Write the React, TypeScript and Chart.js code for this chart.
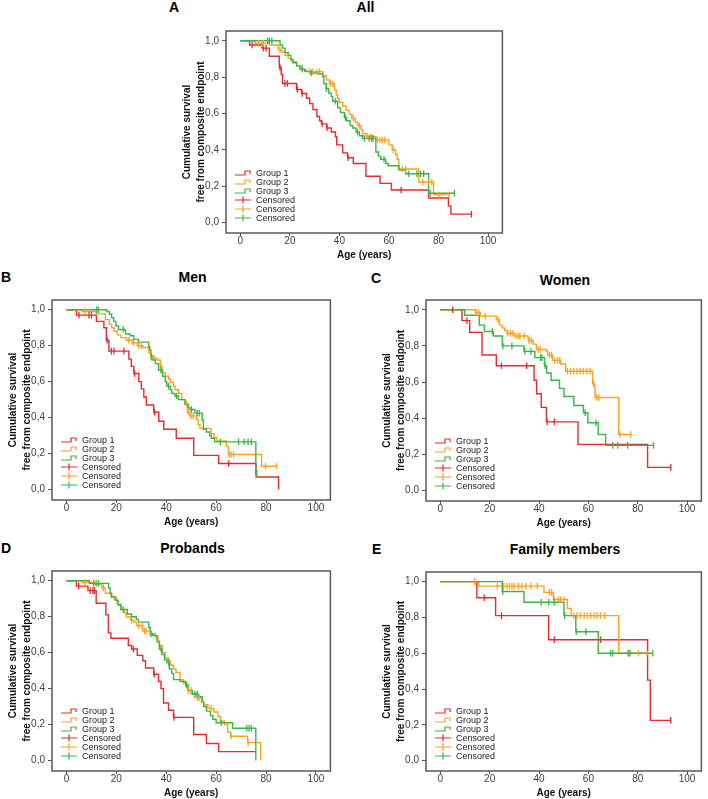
import React, { useEffect, useRef } from "react";
import { Chart, registerables } from "chart.js";

Chart.register(...registerables);

const FONT = '"Liberation Sans", Arial, Helvetica, sans-serif';

// ---------- shared labels / ticks ----------
const xTicks = [0, 20, 40, 60, 80, 100];
const yTicks = [0, 0.2, 0.4, 0.6, 0.8, 1.0];
const groupNames = ["Group 1", "Group 2", "Group 3"];
const censoredName = "Censored";
const groupColors = ["#e8292e", "#f8a325", "#3cb44b"];
const xAxisTitle = "Age (years)";
const yAxisTitle = ["Cumulative survival", "free from composite endpoint"];
const panelTitles = ["All", "Men", "Women", "Probands", "Family members"];
const panelLetters = ["A", "B", "C", "D", "E"];

// ---------- A: All ----------
const allG1Time = [3.7, 8.7, 11.7, 15.7, 16.5, 17, 22.7, 24.7, 26.7, 28, 29.3, 30.9, 32, 32.7, 34.9, 36.7, 38.4, 38.9, 41.3, 43.3, 45.6, 50.7, 56.4, 61, 76, 84, 85];
const allG1Surv = [0.977, 0.96, 0.915, 0.853, 0.815, 0.765, 0.732, 0.71, 0.684, 0.654, 0.622, 0.583, 0.56, 0.543, 0.52, 0.498, 0.472, 0.427, 0.383, 0.356, 0.325, 0.254, 0.215, 0.179, 0.135, 0.09, 0.046];
const allG1Cens = [4.7, 9.3, 10.4, 16, 18, 19, 23, 25, 33, 35, 43.5, 64.9, 93.3];
const allG2Time = [6, 11.7, 15.3, 16.7, 18, 19.3, 20.7, 22.7, 24.7, 26.7, 33.3, 34.7, 36, 38, 38.7, 39.3, 40, 41.3, 42.7, 44, 45, 46.4, 47.3, 48.7, 49.3, 50.7, 54.7, 60, 61.3, 62.7, 63.3, 64, 72, 78];
const allG2Surv = [0.986, 0.977, 0.95, 0.938, 0.92, 0.902, 0.885, 0.862, 0.84, 0.83, 0.808, 0.785, 0.764, 0.729, 0.702, 0.681, 0.661, 0.64, 0.617, 0.596, 0.573, 0.551, 0.534, 0.511, 0.489, 0.472, 0.454, 0.427, 0.4, 0.374, 0.348, 0.294, 0.223, 0.152];
const allG2Cens = [7.3, 8.7, 9.3, 16, 28, 29.3, 31, 32, 36.4, 37.3, 45.6, 48, 51.3, 52.7, 55.3, 56.3, 57.3, 58.3, 61.7, 65.3, 66.7, 73.7, 76, 77.3, 80, 84.3];
const allG3Time = [16, 17, 18, 19.3, 20.4, 21.3, 22.7, 24, 26, 28, 31.3, 33.3, 33.7, 34.7, 35.7, 36.7, 37.3, 39.3, 40.4, 42, 42.9, 44.3, 45.3, 46.7, 48, 49.3, 54.7, 55.7, 56.7, 58.7, 59.7, 64, 66.7, 76];
const allG3Surv = [0.977, 0.96, 0.936, 0.92, 0.897, 0.879, 0.862, 0.844, 0.832, 0.823, 0.817, 0.8, 0.764, 0.738, 0.711, 0.693, 0.667, 0.631, 0.605, 0.578, 0.56, 0.534, 0.52, 0.498, 0.477, 0.463, 0.388, 0.365, 0.348, 0.325, 0.312, 0.289, 0.268, 0.161];
const allG3Cens = [11, 11.7, 12.7, 25, 28.7, 34.7, 38.4, 42.4, 47.3, 50, 52, 53, 53.6, 58, 68, 71.3, 72.7, 74, 76.7, 86.4];

// ---------- B: Men ----------
const menG1Time = [4, 12, 15, 16, 17, 25, 26, 27, 29, 30, 31, 32, 35, 37, 39, 44, 51, 61, 76, 85];
const menG1Surv = [0.97, 0.935, 0.9, 0.83, 0.77, 0.725, 0.685, 0.645, 0.6, 0.56, 0.515, 0.47, 0.43, 0.38, 0.335, 0.285, 0.19, 0.145, 0.07, 0.0];
const menG1Cens = [5, 9, 10, 16.3, 18, 19, 23, 27.3, 35.3, 65];
const menG2Time = [6.3, 11.9, 15.6, 17.2, 18.1, 19.1, 20.4, 21.8, 24, 26.4, 28.4, 30.7, 33, 34, 35, 36.3, 37.6, 38.3, 39.6, 40.9, 41.6, 42.9, 43.5, 44.9, 46.2, 47.5, 48.5, 49.5, 52.1, 52.8, 53.5, 58, 59.1, 60.3, 64.1, 64.9, 78.2];
const menG2Surv = [0.99, 0.977, 0.945, 0.92, 0.9, 0.88, 0.86, 0.845, 0.83, 0.815, 0.8, 0.79, 0.76, 0.745, 0.73, 0.72, 0.685, 0.65, 0.63, 0.615, 0.595, 0.575, 0.555, 0.535, 0.5, 0.475, 0.43, 0.41, 0.39, 0.36, 0.34, 0.31, 0.29, 0.27, 0.24, 0.195, 0.13];
const menG2Cens = [7.3, 9.2, 25, 26.8, 29, 30, 33.9, 37.9, 48.2, 48.8, 49.9, 50.8, 65.2, 66, 67, 79.8, 84.2];
const menG3Time = [16.1, 17.2, 18.1, 18.9, 19.8, 20.8, 23.7, 25.5, 27, 28.8, 33, 33.4, 33.8, 34.3, 35.6, 36.9, 38.5, 39.6, 40.2, 41.6, 42.2, 43.5, 44.9, 47.5, 48.8, 49.5, 51.5, 54.4, 54.9, 56.1, 57.4, 58, 59.4, 75.9];
const menG3Surv = [0.99, 0.975, 0.955, 0.935, 0.91, 0.89, 0.865, 0.855, 0.835, 0.82, 0.795, 0.775, 0.74, 0.72, 0.7, 0.665, 0.63, 0.6, 0.575, 0.555, 0.535, 0.52, 0.5, 0.475, 0.455, 0.445, 0.425, 0.385, 0.335, 0.32, 0.3, 0.285, 0.265, 0.09];
const menG3Cens = [12.1, 12.8, 22.8, 34, 37.9, 40.9, 44.2, 50.1, 52.4, 53.2, 61.7, 69, 71.2, 72.8, 74.1, 76.3];

// ---------- C: Women ----------
const womenG1Time = [8.8, 11.9, 16.9, 22.7, 38, 39, 40.9, 43, 55.8, 84];
const womenG1Surv = [0.94, 0.875, 0.75, 0.69, 0.61, 0.535, 0.46, 0.38, 0.255, 0.128];
const womenG1Cens = [5, 10.8, 24.8, 35, 43.3, 46.2, 93.4];
const womenG2Time = [14.2, 16.2, 22.7, 24, 25.1, 26.1, 27, 29.9, 35.6, 37.6, 38.9, 42.9, 43.5, 45.5, 48.8, 50.8, 61.7, 62.7, 72.3];
const womenG2Surv = [0.985, 0.965, 0.945, 0.915, 0.9, 0.885, 0.87, 0.855, 0.83, 0.81, 0.78, 0.77, 0.75, 0.72, 0.7, 0.66, 0.59, 0.515, 0.31];
const womenG2Cens = [14.5, 15.6, 18.2, 23.4, 27.3, 28.4, 29.4, 30.7, 31.7, 32.3, 34, 36, 36.9, 39.6, 40.5, 44.2, 45.1, 46.4, 47.5, 48.4, 51.5, 52.8, 54.1, 55.4, 56.7, 58, 59.4, 60.7, 62.1, 63.3, 64.2, 72.8, 77.2];
const womenG3Time = [9.9, 15.8, 17.8, 21.5, 25.1, 33.9, 38.3, 42.2, 43.1, 44.9, 48.3, 50.1, 54.1, 58, 59.8, 64, 67];
const womenG3Surv = [0.97, 0.915, 0.88, 0.855, 0.8, 0.77, 0.735, 0.69, 0.65, 0.61, 0.565, 0.52, 0.47, 0.43, 0.375, 0.31, 0.25];
const womenG3Cens = [21.1, 25.4, 29, 34.3, 36.7, 40.6, 41.2, 42.5, 58.7, 63.1, 69.9, 71.9, 75.9, 86.4];

// ---------- D: Probands ----------
const probandsG1Time = [4, 8.6, 11.9, 15.8, 16.8, 17.8, 24.8, 26.1, 28.4, 30.6, 31.7, 35, 36.9, 37.9, 38.9, 40.9, 42.9, 51, 56.1, 61, 75.9];
const probandsG1Surv = [0.97, 0.945, 0.875, 0.81, 0.71, 0.68, 0.64, 0.62, 0.585, 0.555, 0.515, 0.48, 0.44, 0.4, 0.32, 0.28, 0.24, 0.145, 0.095, 0.05, 0.05];
const probandsG1Cens = [4.9, 9.5, 10.6, 11.2, 26.8, 35.2, 43.1];
const probandsG2Time = [6.3, 11.2, 14.2, 15.6, 17.8, 19.1, 20.4, 21.8, 23.1, 24, 25.7, 27, 28, 30.6, 33.6, 35.6, 36.7, 37.3, 38.3, 39.6, 40.6, 41.6, 42.9, 43.9, 45.5, 46.8, 47.9, 48.5, 50.1, 51.5, 54.1, 55.1, 56.7, 59.1, 60.7, 61.7, 63.3, 64.6, 65.7, 72.6, 77.8];
const probandsG2Surv = [0.99, 0.98, 0.96, 0.93, 0.91, 0.895, 0.87, 0.84, 0.82, 0.8, 0.78, 0.77, 0.75, 0.72, 0.705, 0.69, 0.665, 0.64, 0.6, 0.57, 0.555, 0.53, 0.51, 0.49, 0.45, 0.43, 0.41, 0.39, 0.37, 0.35, 0.325, 0.31, 0.29, 0.27, 0.245, 0.22, 0.2, 0.16, 0.135, 0.1, 0.0];
const probandsG2Cens = [7.3, 14.8, 26.1, 29, 30.3, 31.3, 31.9, 33.9, 40.9, 48.8, 49.9, 52.5, 53.2, 58, 66, 72.8];
const probandsG3Time = [9.2, 16.9, 17.5, 18.1, 19.8, 20.7, 21.8, 24.4, 26.1, 28, 28.8, 33, 33.6, 34.6, 36.3, 37.2, 38.3, 39.3, 40.2, 41.2, 42.2, 42.9, 45.5, 47.8, 48.8, 50.5, 52.8, 54.4, 55, 56.1, 57.7, 58.7, 60, 66.6, 75.9];
const probandsG3Surv = [0.985, 0.96, 0.93, 0.91, 0.89, 0.865, 0.84, 0.815, 0.8, 0.785, 0.77, 0.74, 0.705, 0.695, 0.66, 0.62, 0.59, 0.56, 0.545, 0.51, 0.485, 0.45, 0.44, 0.42, 0.39, 0.37, 0.355, 0.325, 0.3, 0.275, 0.25, 0.23, 0.21, 0.18, 0.0];
const probandsG3Cens = [10.9, 11.9, 12.9, 22.8, 33.9, 37.9, 40.9, 48.2, 51.5, 52.4, 62, 72.3, 73.2, 74.1];

// ---------- E: Family members ----------
const familyG1Time = [14.8, 22.4, 43.9, 84, 85.1];
const familyG1Surv = [0.91, 0.81, 0.675, 0.45, 0.225];
const familyG1Cens = [17.8, 24.8, 46.2, 64.9, 93.4];
const familyG2Time = [15.6, 42, 45.8, 51.5, 53, 72.3];
const familyG2Surv = [0.975, 0.94, 0.9, 0.85, 0.81, 0.6];
const familyG2Cens = [13.9, 23.1, 25.7, 27, 28, 29, 29.9, 31.7, 33, 34.7, 36.7, 39.3, 44.2, 45.1, 46.2, 47.8, 48.8, 50.1, 54.1, 55.4, 56.7, 58.3, 59.6, 60.9, 62.3, 63.6, 64.9, 66.6, 76.3, 80.2, 83.8];
const familyG3Time = [25.1, 33.9, 50.1, 54.9, 64];
const familyG3Surv = [0.945, 0.885, 0.81, 0.72, 0.6];
const familyG3Cens = [25.3, 40.9, 43.9, 46.2, 50.4, 55.1, 59, 69, 69.9, 76.1, 76.9, 86.1];

type Curve = { time: number[]; surv: number[]; cens: number[] };
type Frame = { left: number; top: number; width: number; height: number };
type PanelDef = {
  letter: string;
  title: string;
  curves: Curve[];
  frame: Frame;
  titleY: number;
  letterX: number;
  letterY: number;
};

const panels: PanelDef[] = [
  {
    letter: panelLetters[0], title: panelTitles[0],
    curves: [
      { time: allG1Time, surv: allG1Surv, cens: allG1Cens },
      { time: allG2Time, surv: allG2Surv, cens: allG2Cens },
      { time: allG3Time, surv: allG3Surv, cens: allG3Cens },
    ],
    frame: { left: 226, top: 24, width: 279, height: 209 },
    titleY: 7, letterX: 169, letterY: 7,
  },
  {
    letter: panelLetters[1], title: panelTitles[1],
    curves: [
      { time: menG1Time, surv: menG1Surv, cens: menG1Cens },
      { time: menG2Time, surv: menG2Surv, cens: menG2Cens },
      { time: menG3Time, surv: menG3Surv, cens: menG3Cens },
    ],
    frame: { left: 52, top: 293, width: 281, height: 207 },
    titleY: 277, letterX: 1, letterY: 277,
  },
  {
    letter: panelLetters[2], title: panelTitles[2],
    curves: [
      { time: womenG1Time, surv: womenG1Surv, cens: womenG1Cens },
      { time: womenG2Time, surv: womenG2Surv, cens: womenG2Cens },
      { time: womenG3Time, surv: womenG3Surv, cens: womenG3Cens },
    ],
    frame: { left: 426, top: 293, width: 278, height: 208 },
    titleY: 280, letterX: 371, letterY: 277.5,
  },
  {
    letter: panelLetters[3], title: panelTitles[3],
    curves: [
      { time: probandsG1Time, surv: probandsG1Surv, cens: probandsG1Cens },
      { time: probandsG2Time, surv: probandsG2Surv, cens: probandsG2Cens },
      { time: probandsG3Time, surv: probandsG3Surv, cens: probandsG3Cens },
    ],
    frame: { left: 52, top: 564, width: 281, height: 207 },
    titleY: 548, letterX: 1, letterY: 547.5,
  },
  {
    letter: panelLetters[4], title: panelTitles[4],
    curves: [
      { time: familyG1Time, surv: familyG1Surv, cens: familyG1Cens },
      { time: familyG2Time, surv: familyG2Surv, cens: familyG2Cens },
      { time: familyG3Time, surv: familyG3Surv, cens: familyG3Cens },
    ],
    frame: { left: 426, top: 565, width: 278, height: 206 },
    titleY: 549, letterX: 372, letterY: 549,
  },
];

const Y_AXIS_W = 52;
const X_AXIS_H = 28;
const PAD_T = 2;
const PAD_R = 2;

function survAt(c: Curve, t: number): number {
  let s = 1;
  for (let i = 0; i < c.time.length; i++) {
    if (c.time[i] <= t) s = c.surv[i];
  }
  return s;
}

const framePlugin = {
  id: "kmFrame",
  afterDraw(chart: any) {
    const { ctx, chartArea } = chart;
    const { left, top, right, bottom } = chartArea;
    ctx.save();
    ctx.strokeStyle = "#5a5a5a";
    ctx.lineWidth = 1.5;
    ctx.strokeRect(left, top, right - left, bottom - top);
    ctx.restore();
  },
};

const legendPlugin = {
  id: "kmLegend",
  afterDraw(chart: any) {
    const { ctx, chartArea } = chart;
    const x0 = chartArea.left + 9;
    const y0 = chartArea.bottom - 60;
    const items = [
      ...groupNames.map((n, i) => ({ n, c: groupColors[i], step: true })),
      ...groupColors.map((c) => ({ n: censoredName, c, step: false })),
    ];
    ctx.save();
    ctx.font = `9px ${FONT}`;
    ctx.textBaseline = "middle";
    ctx.textAlign = "left";
    items.forEach((it, i) => {
      const y = y0 + i * 9;
      ctx.strokeStyle = it.c;
      ctx.lineWidth = 1.2;
      ctx.beginPath();
      if (it.step) {
        ctx.moveTo(x0, y + 2);
        ctx.lineTo(x0 + 10, y + 2);
        ctx.lineTo(x0 + 10, y - 2);
        ctx.lineTo(x0 + 15, y - 2);
        ctx.lineTo(x0 + 15, y + 1);
      } else {
        ctx.moveTo(x0, y);
        ctx.lineTo(x0 + 16, y);
        ctx.moveTo(x0 + 8, y - 3.5);
        ctx.lineTo(x0 + 8, y + 3.5);
      }
      ctx.stroke();
      ctx.fillStyle = "#222";
      ctx.fillText(it.n, x0 + 21, y + 0.5);
    });
    ctx.restore();
  },
};

function KMPanel({ panel }: { panel: PanelDef }) {
  const ref = useRef<HTMLCanvasElement>(null);
  const { frame } = panel;
  const cw = Y_AXIS_W + frame.width + PAD_R;
  const ch = PAD_T + frame.height + X_AXIS_H;

  useEffect(() => {
    if (!ref.current) return;
    const datasets: any[] = [];
    panel.curves.forEach((c, g) => {
      const pts = [{ x: 0, y: 1 }, ...c.time.map((t, i) => ({ x: t, y: c.surv[i] }))];
      const lastT = c.time.length ? c.time[c.time.length - 1] : 0;
      const lastS = c.surv.length ? c.surv[c.surv.length - 1] : 1;
      const end = Math.max(lastT, ...c.cens);
      if (end > lastT) pts.push({ x: end, y: lastS });
      datasets.push({
        label: groupNames[g],
        data: pts,
        showLine: true,
        stepped: true,
        borderColor: groupColors[g],
        backgroundColor: groupColors[g],
        borderWidth: 1.4,
        pointRadius: 0,
        pointHoverRadius: 0,
        fill: false,
        order: 10 - g,
      });
    });
    panel.curves.forEach((c, g) => {
      datasets.push({
        label: censoredName,
        data: c.cens.map((t) => ({ x: t, y: survAt(c, t) })),
        showLine: false,
        pointStyle: "line",
        rotation: 90,
        pointRadius: 3.3,
        pointHoverRadius: 3.3,
        borderColor: groupColors[g],
        backgroundColor: groupColors[g],
        pointBorderWidth: 1.3,
        borderWidth: 1.3,
        order: 3 - g,
      });
    });

    const chart = new Chart(ref.current, {
      type: "scatter",
      data: { datasets },
      options: {
        responsive: false,
        animation: false,
        devicePixelRatio: 1,
        events: [],
        layout: { padding: { top: PAD_T, right: PAD_R, left: 0, bottom: 0 } },
        plugins: {
          legend: { display: false },
          tooltip: { enabled: false },
          title: { display: false },
        },
        scales: {
          x: {
            type: "linear",
            min: -5.8,
            max: 105.8,
            afterBuildTicks: (s: any) => {
              s.ticks = xTicks.map((v) => ({ value: v }));
            },
            afterFit: (s: any) => {
              s.height = X_AXIS_H;
            },
            grid: {
              display: true,
              drawOnChartArea: false,
              drawTicks: true,
              tickLength: 3,
              color: "#555",
              lineWidth: 1,
            },
            border: { display: false },
            ticks: {
              autoSkip: false,
              maxRotation: 0,
              padding: 0,
              color: "#404040",
              font: { size: 10, family: FONT, lineHeight: 1 },
              callback: (v: any) => String(v),
            },
            title: {
              display: true,
              text: xAxisTitle,
              color: "#111",
              font: { size: 10, weight: "bold", family: FONT, lineHeight: 1.2 },
              padding: { top: 0, bottom: 0 },
            },
          },
          y: {
            type: "linear",
            min: -0.058,
            max: 1.054,
            afterBuildTicks: (s: any) => {
              s.ticks = yTicks.map((v) => ({ value: v }));
            },
            afterFit: (s: any) => {
              s.width = Y_AXIS_W;
            },
            grid: {
              display: true,
              drawOnChartArea: false,
              drawTicks: true,
              tickLength: 4,
              color: "#555",
              lineWidth: 1,
            },
            border: { display: false },
            ticks: {
              autoSkip: false,
              padding: 3,
              color: "#404040",
              font: { size: 10, family: FONT },
              callback: (v: any) => Number(v).toFixed(1).replace(".", ","),
            },
            title: {
              display: true,
              text: yAxisTitle,
              color: "#111",
              font: { size: 10, weight: "bold", family: FONT, lineHeight: 1.4 },
              padding: { top: 6, bottom: 0 },
            },
          },
        },
      } as any,
      plugins: [framePlugin, legendPlugin],
    });
    return () => chart.destroy();
  }, [panel]);

  const centerX = frame.left + frame.width / 2;
  return (
    <>
      <canvas
        ref={ref}
        width={cw}
        height={ch}
        style={{
          position: "absolute",
          left: frame.left - Y_AXIS_W,
          top: frame.top - PAD_T,
          width: cw,
          height: ch,
          display: "block",
        }}
      />
      <div
        style={{
          position: "absolute",
          left: centerX - 150,
          width: 300,
          top: panel.titleY - 9,
          textAlign: "center",
          font: `bold 14px ${FONT}`,
          lineHeight: "18px",
          color: "#000",
          whiteSpace: "nowrap",
        }}
      >
        {panel.title}
      </div>
      <div
        style={{
          position: "absolute",
          left: panel.letterX,
          top: panel.letterY - 9,
          font: `bold 14px ${FONT}`,
          lineHeight: "18px",
          color: "#000",
        }}
      >
        {panel.letter}
      </div>
    </>
  );
}

export default function App() {
  return (
    <div
      style={{
        position: "absolute",
        left: 0,
        top: 0,
        width: 708,
        height: 799,
        background: "#fff",
        overflow: "hidden",
      }}
    >
      {panels.map((p) => (
        <KMPanel key={p.letter} panel={p} />
      ))}
    </div>
  );
}
